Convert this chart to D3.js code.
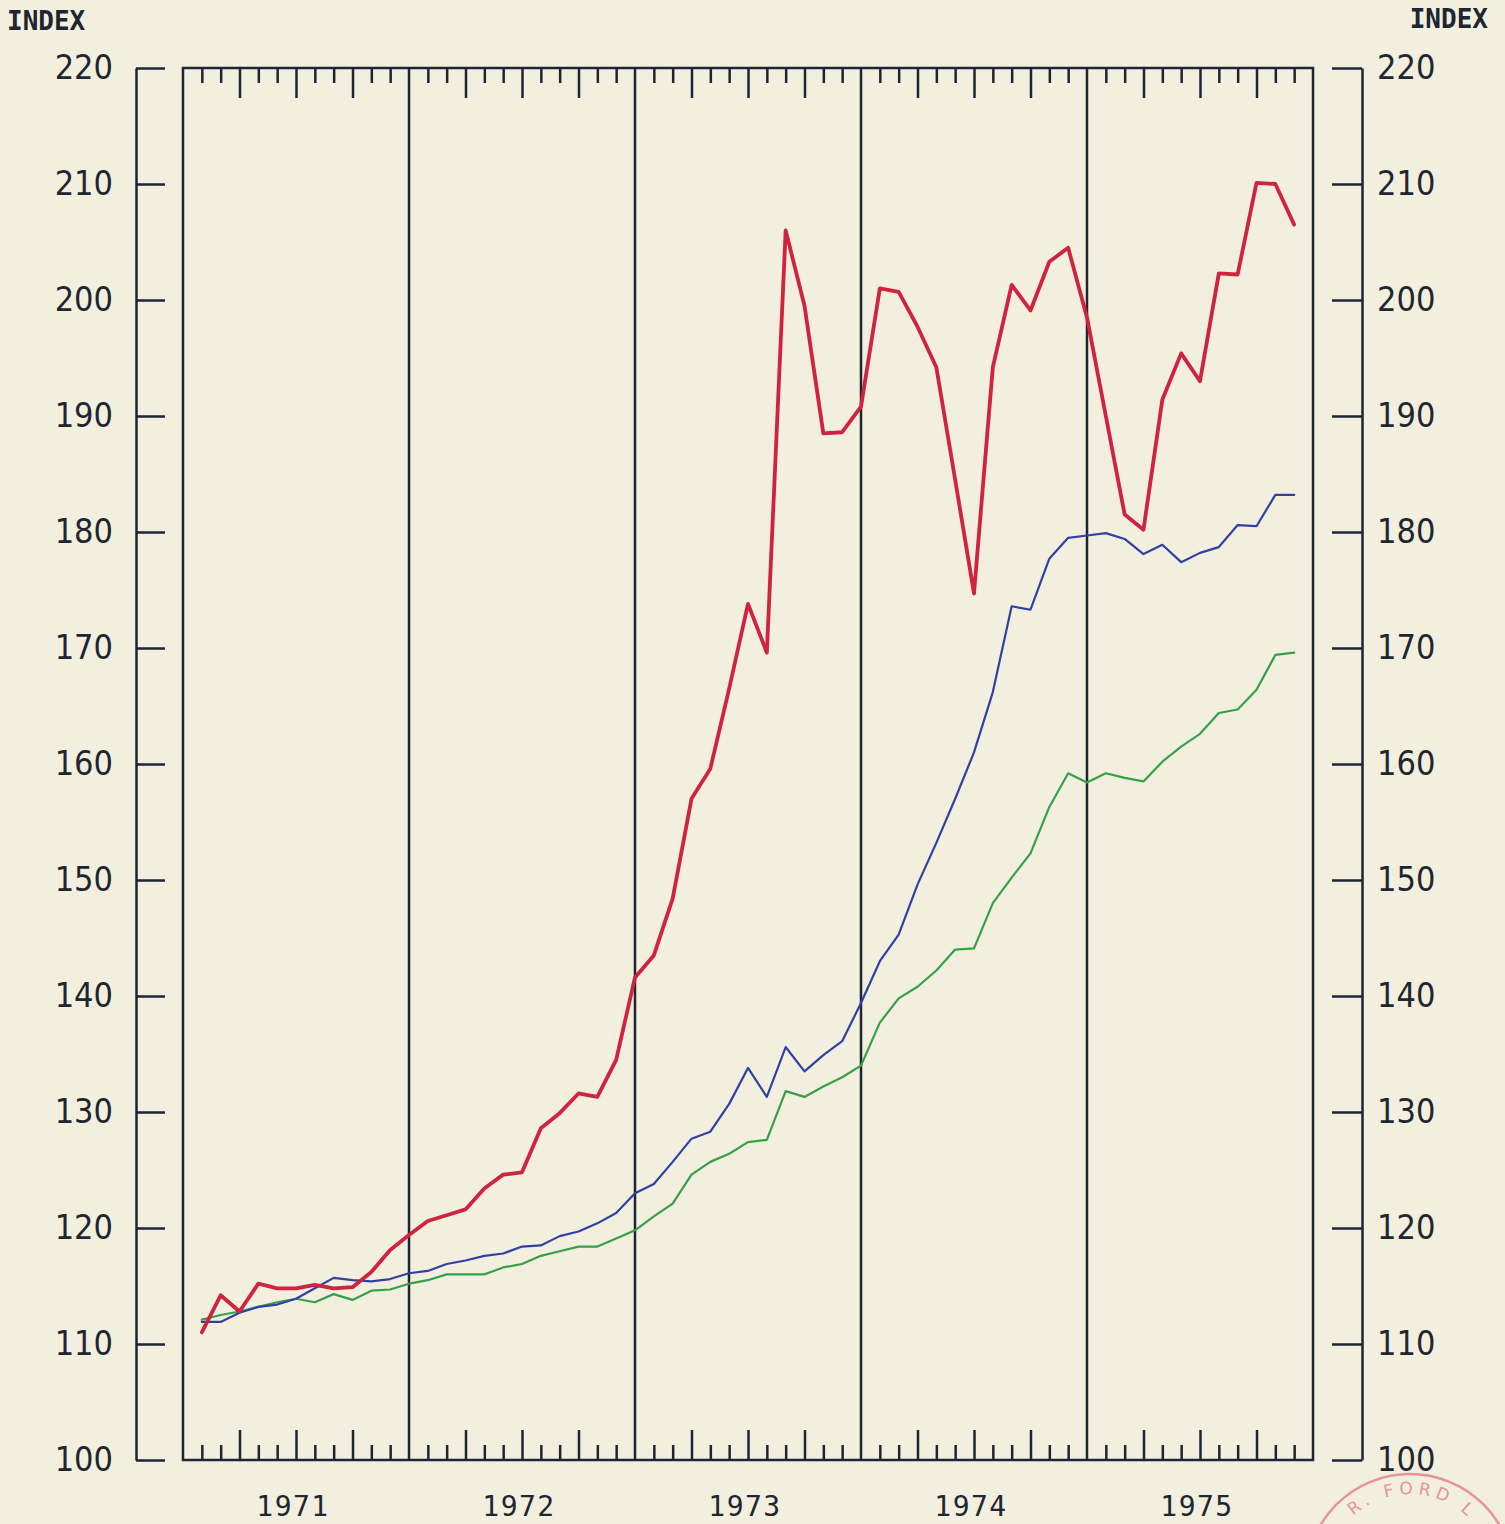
<!DOCTYPE html>
<html>
<head>
<meta charset="utf-8">
<script src="https://cdn.jsdelivr.net/npm/d3@7"></script>
<style>
  html, body { margin: 0; padding: 0; background: #f3efdf; }
  svg { display: block; }
</style>
</head>
<body>
<svg id="chart" width="1505" height="1524"></svg>
<script>
// Monthly index values, January 1971 = month 0; points are plotted at months 1..59
const monthIndex = d3.range(1, 60);

const redSeries = [
  111.0, 114.2, 112.8, 115.2, 114.8, 114.8, 115.1, 114.8, 114.9, 116.2, 118.1, 119.4,
  120.6, 121.1, 121.6, 123.4, 124.6, 124.8, 128.6, 129.9, 131.6, 131.3, 134.5, 141.6,
  143.5, 148.4, 157.0, 159.6, 166.5, 173.8, 169.6, 206.0, 199.5, 188.5, 188.6, 190.8,
  201.0, 200.7, 197.7, 194.2, 184.5, 174.7, 194.2, 201.3, 199.1, 203.3, 204.5, 198.5,
  190.0, 181.5, 180.2, 191.4, 195.4, 193.0, 202.3, 202.2, 210.1, 210.0, 206.5
];

const blueSeries = [
  111.9, 111.9, 112.7, 113.2, 113.4, 113.9, 114.8, 115.7, 115.5, 115.4, 115.6, 116.1,
  116.3, 116.9, 117.2, 117.6, 117.8, 118.4, 118.5, 119.3, 119.7, 120.4, 121.3, 123.0,
  123.8, 125.7, 127.7, 128.3, 130.7, 133.8, 131.3, 135.6, 133.5, 134.9, 136.1, 139.4,
  143.0, 145.3, 149.6, 153.2, 157.0, 161.0, 166.2, 173.6, 173.3, 177.7, 179.5, 179.7,
  179.9, 179.4, 178.1, 178.9, 177.4, 178.2, 178.7, 180.6, 180.5, 183.2, 183.2
];

const greenSeries = [
  112.1, 112.5, 112.8, 113.2, 113.6, 113.9, 113.6, 114.3, 113.8, 114.6, 114.7, 115.2,
  115.5, 116.0, 116.0, 116.0, 116.6, 116.9, 117.6, 118.0, 118.4, 118.4, 119.1, 119.8,
  121.0, 122.1, 124.6, 125.7, 126.4, 127.4, 127.6, 131.8, 131.3, 132.2, 133.0, 134.0,
  137.7, 139.8, 140.8, 142.2, 144.0, 144.1, 148.0, 150.2, 152.3, 156.3, 159.2, 158.4,
  159.2, 158.8, 158.5, 160.2, 161.5, 162.6, 164.4, 164.7, 166.4, 169.4, 169.6
];

const yearLabels = ["1971", "1972", "1973", "1974", "1975"];
const yTickValues = [100, 110, 120, 130, 140, 150, 160, 170, 180, 190, 200, 210, 220];
const axisTitle = "INDEX";
const stampText = "R. FORD L";

// ---- layout ----
const frame = { left: 183, right: 1313, top: 68, bottom: 1460 };
const leftAxisX = 136, rightAxisX = 1362;
const ink = "#1d2535";
const textInk = "#20262f";

const svg = d3.select("#chart");
svg.append("rect").attr("width", 1505).attr("height", 1524).attr("fill", "#f3efdf");

const x = d3.scaleLinear().domain([0, 60]).range([frame.left, frame.right]);
const y = d3.scaleLinear().domain([100, 220]).range([frame.bottom, frame.top]);

const numberFont = "'DejaVu Sans Condensed', 'Liberation Sans Narrow', sans-serif";
const monoFont = "'DejaVu Sans Mono', 'Liberation Mono', monospace";

function styleAxis(g) {
  g.selectAll("path.domain").attr("stroke", ink).attr("stroke-width", 2.5);
  g.selectAll(".tick line").attr("stroke", ink).attr("stroke-width", 2.5);
  g.selectAll(".tick text")
    .attr("fill", textInk)
    .style("font-family", numberFont)
    .style("font-size", "34px");
}

// left value axis: bracket line with ticks pointing toward the plot
const leftAxis = svg.append("g")
  .attr("transform", `translate(${leftAxisX},0)`)
  .call(d3.axisLeft(y).tickValues(yTickValues).tickSizeInner(-29).tickSizeOuter(0).tickPadding(23));
styleAxis(leftAxis);

// right value axis
const rightAxis = svg.append("g")
  .attr("transform", `translate(${rightAxisX},0)`)
  .call(d3.axisRight(y).tickValues(yTickValues).tickSizeInner(-30).tickSizeOuter(0).tickPadding(15));
styleAxis(rightAxis);

// month ticks: short for months, long for quarters, full rule at year boundaries
const minorMonths = d3.range(1, 60).filter(m => m % 3 !== 0);
const quarterMonths = d3.range(1, 60).filter(m => m % 3 === 0 && m % 12 !== 0);
const yearBounds = [12, 24, 36, 48];

function monthAxis(axisFn, months, len) {
  return axisFn(x).tickValues(months).tickSizeInner(-len).tickSizeOuter(0).tickFormat("");
}
[[minorMonths, 15], [quarterMonths, 30]].forEach(([months, len]) => {
  const top = svg.append("g").attr("transform", `translate(0,${frame.top})`)
    .call(monthAxis(d3.axisTop, months, len));
  const bottom = svg.append("g").attr("transform", `translate(0,${frame.bottom})`)
    .call(monthAxis(d3.axisBottom, months, len));
  [top, bottom].forEach(g => {
    g.select("path.domain").remove();
    g.selectAll(".tick line").attr("stroke", ink).attr("stroke-width", 2.5);
  });
});

// year dividers
svg.append("g").selectAll("line").data(yearBounds).join("line")
  .attr("x1", d => x(d)).attr("x2", d => x(d))
  .attr("y1", frame.top).attr("y2", frame.bottom)
  .attr("stroke", ink).attr("stroke-width", 2.5);

// plot frame
svg.append("rect")
  .attr("x", frame.left).attr("y", frame.top)
  .attr("width", frame.right - frame.left).attr("height", frame.bottom - frame.top)
  .attr("fill", "none").attr("stroke", ink).attr("stroke-width", 2.5);

// year labels centred under each year
svg.append("g").selectAll("text").data(yearLabels).join("text")
  .attr("x", (d, i) => x(i * 12 + 6) - 3)
  .attr("y", 1516)
  .attr("text-anchor", "middle")
  .attr("fill", textInk)
  .style("font-family", monoFont)
  .style("font-size", "28px")
  .style("letter-spacing", "1.5px")
  .text(d => d);

// axis titles
svg.append("text").attr("x", 7).attr("y", 30)
  .attr("fill", textInk).style("font-family", monoFont).style("font-size", "26px")
  .style("font-weight", "bold")
  .text(axisTitle);
svg.append("text").attr("x", 1488).attr("y", 28).attr("text-anchor", "end")
  .attr("fill", textInk).style("font-family", monoFont).style("font-size", "26px")
  .style("font-weight", "bold")
  .text(axisTitle);

// series lines
const line = d3.line().x(d => x(d[0])).y(d => y(d[1]));
const seriesList = [
  { values: greenSeries, color: "#35a049", width: 2.2 },
  { values: blueSeries, color: "#2f42a3", width: 2.2 },
  { values: redSeries, color: "#cf2340", width: 3.8 }
];
svg.append("g").selectAll("path").data(seriesList).join("path")
  .attr("d", s => line(monthIndex.map((m, i) => [m, s.values[i]])))
  .attr("fill", "none")
  .attr("stroke", s => s.color)
  .attr("stroke-width", s => s.width)
  .attr("stroke-linejoin", "round")
  .attr("stroke-linecap", "round");

// library stamp in the lower right corner
const stamp = svg.append("g").attr("opacity", 0.75);
const sc = { cx: 1410, cy: 1578, r: 104, tr: 84 };
stamp.append("circle").attr("cx", sc.cx).attr("cy", sc.cy).attr("r", sc.r)
  .attr("fill", "none").attr("stroke", "#e57386").attr("stroke-width", 2.5);
stamp.append("path").attr("id", "stampArc").attr("fill", "none")
  .attr("d", `M${sc.cx},${sc.cy + sc.tr} A${sc.tr},${sc.tr} 0 1 1 ${sc.cx},${sc.cy - sc.tr} A${sc.tr},${sc.tr} 0 1 1 ${sc.cx},${sc.cy + sc.tr}`);
stamp.append("text")
  .attr("fill", "#e57386")
  .style("font-family", "'DejaVu Sans', sans-serif")
  .style("font-size", "17px")
  .style("letter-spacing", "5px")
  .append("textPath")
  .attr("href", "#stampArc")
  .attr("startOffset", "50.5%")
  .attr("text-anchor", "middle")
  .text(stampText);
</script>
</body>
</html>
